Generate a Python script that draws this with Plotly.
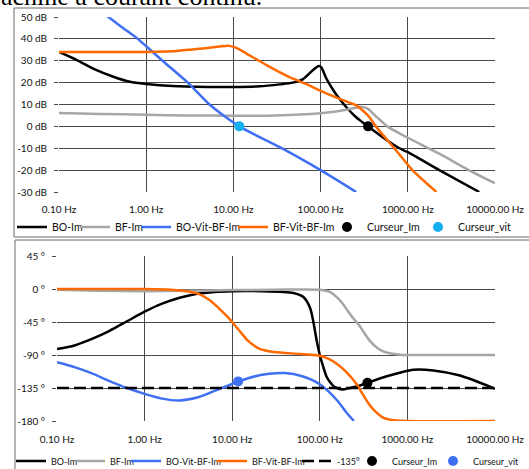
import plotly.graph_objects as go

W, H = 529, 469

# ---------------- data ----------------
FREQ_TICKS = [0.1, 1, 10, 100, 1000, 10000]
FREQ_LABELS = ["0.10 Hz", "1.00 Hz", "10.00 Hz", "100.00 Hz", "1000.00 Hz", "10000.00 Hz"]
GAIN_TICKS = [-30, -20, -10, 0, 10, 20, 30, 40, 50]
GAIN_LABELS = [f"{v} dB" for v in GAIN_TICKS]
PHASE_TICKS = [-180, -135, -90, -45, 0, 45]
PHASE_LABELS = [f"{v} °" for v in PHASE_TICKS]

# Magnitude (dB)
F_BO_IM = [0.1, 0.16, 0.25, 0.42, 0.65, 1.0, 2.0, 5.0, 10, 20, 34, 48, 63, 82, 95, 102, 116, 140, 165, 200, 250, 300, 350, 560, 800, 1000, 2300, 6600]
G_BO_IM = [34.0, 30.3, 26.3, 22.7, 20.4, 19.4, 18.4, 18.0, 18.0, 18.3, 19.2, 20.0, 21.6, 25.8, 27.6, 27.0, 22.0, 16.5, 12.5, 8.5, 4.5, 2.0, 0.0, -6.0, -10.0, -11.8, -20.0, -30.0]

F_BF_IM = [0.1, 0.3, 1, 3, 10, 30, 100, 150, 200, 250, 290, 350, 420, 500, 580, 1000, 2300, 5000, 10000]
G_BF_IM = [6.1, 5.7, 5.3, 5.0, 4.9, 5.0, 6.0, 6.8, 7.6, 8.5, 9.0, 8.0, 5.0, 2.3, 0.0, -5.2, -12.5, -20.0, -26.0]

F_BOV = [0.33, 0.5, 0.8, 1.0, 1.54, 3.0, 5.33, 8.0, 11.7, 18, 34, 100, 256]
G_BOV = [51.5, 46.0, 40.0, 36.6, 30.0, 20.0, 10.0, 4.5, 0.0, -4.0, -9.5, -20.0, -30.0]

F_BFV = [0.1, 1, 2, 3, 5, 7, 9, 11, 14, 24, 44, 68, 100, 160, 256, 300, 364, 430, 700, 1130, 2130]
G_BFV = [34.0, 34.0, 34.3, 35.0, 35.8, 36.5, 36.8, 35.8, 33.4, 28.0, 22.5, 19.4, 16.2, 12.8, 9.6, 7.5, 4.2, 0.0, -10.0, -20.0, -30.0]

# Phase (degrees)
PF_BO_IM = [0.1, 0.158, 0.251, 0.398, 0.631, 1.0, 1.585, 2.512, 3.981, 6.31, 10, 21, 50, 65, 77.5, 84.5, 92, 100, 110, 120, 131, 145, 178, 221, 288, 350, 580, 1170, 1980, 3980, 10000]
P_BO_IM = [-82, -77, -68, -57, -44, -31, -20, -12, -6.5, -4, -3, -3, -5.5, -11, -26, -45, -70, -90, -107, -120, -127, -133, -137, -135, -131.5, -128, -119, -110, -111, -118, -136]

PF_BF_IM = [0.1, 0.3, 1, 3, 10, 30, 100, 130, 156, 180, 212, 245, 280, 330, 375, 450, 530, 650, 820, 1000, 3000, 10000]
P_BF_IM = [-1, -2.5, -3, -2.5, -1.5, -1, -1, -4, -11, -19, -31, -41, -49, -62, -71, -80, -85, -88, -89.5, -90, -90, -90]

PF_BOV = [0.1, 0.158, 0.251, 0.398, 0.631, 1.0, 1.585, 2.512, 3.981, 6.31, 10, 15.85, 25.1, 39.8, 63.1, 100, 158, 200, 245]
P_BOV = [-100, -106.5, -115, -125.5, -135, -143, -149.5, -152, -148, -139, -129.5, -121, -116, -114.5, -119, -130, -152, -168, -180]

PF_BFV = [0.1, 1, 2, 3, 4, 5.5, 7, 8.7, 10, 12.3, 15, 20, 30, 60, 100, 125, 156, 200, 264, 300, 360, 430, 520, 650, 1000, 10000]
P_BFV = [0, 0, -1, -3, -6, -15, -26, -37, -45, -58, -70, -81, -86, -88.5, -91, -95, -102, -113, -130, -141, -156, -167, -175, -178.5, -180, -180]

F_REF = [0.1, 10000]
P_REF = [-135, -135]

CURSOR_IM_F = [350]
CURSOR_IM_G = [0]
CURSOR_IM_P = [-128]
CURSOR_VIT_F = [11.7]
CURSOR_VIT_G = [0]
CURSOR_VIT_P = [-126]

# ---------------- style ----------------
FONT = "Lato"
BLACK = "#000000"
GRAY = "#a6a6a6"
BLUE = "#3f6ff3"
ORANGE = "#ff6a00"
CYAN = "#12b0ee"
GRID = "#4a4a4a"
LW = 2.5

fig = go.Figure()

def line(x, y, name, color, xa, ya, leg, lw_leg, dash=None):
    fig.add_trace(go.Scatter(
        x=x, y=y, name=name, mode="lines", xaxis=xa, yaxis=ya, legend=leg,
        line=dict(color=color, width=LW, shape="spline", smoothing=0.7, dash=dash),
        legendwidth=lw_leg, hoverinfo="skip"))

def marker(x, y, name, color, xa, ya, leg, lw_leg):
    fig.add_trace(go.Scatter(
        x=x, y=y, name=name, mode="markers", xaxis=xa, yaxis=ya, legend=leg,
        marker=dict(color=color, size=10, line=dict(width=0)),
        legendwidth=lw_leg, hoverinfo="skip"))

# top panel
line(F_BO_IM, G_BO_IM, "BO-Im", BLACK, "x", "y", "legend", 18)
line(F_BF_IM, G_BF_IM, "BF-Im", GRAY, "x", "y", "legend", 16)
line(F_BOV, G_BOV, "BO-Vit-BF-Im", BLUE, "x", "y", "legend", 52)
line(F_BFV, G_BFV, "BF-Vit-BF-Im", ORANGE, "x", "y", "legend", 49)
marker(CURSOR_IM_F, CURSOR_IM_G, "Curseur_Im", BLACK, "x", "y", "legend", 46)
marker(CURSOR_VIT_F, CURSOR_VIT_G, "Curseur_vit", CYAN, "x", "y", "legend", 50)

# bottom panel
line(PF_BO_IM, P_BO_IM, "BO-Im", BLACK, "x2", "y2", "legend2", 14)
line(PF_BF_IM, P_BF_IM, "BF-Im", GRAY, "x2", "y2", "legend2", 11)
line(PF_BOV, P_BOV, "BO-Vit-BF-Im", BLUE, "x2", "y2", "legend2", 41)
line(PF_BFV, P_BFV, "BF-Vit-BF-Im", ORANGE, "x2", "y2", "legend2", 40)
line(F_REF, P_REF, "-135°", BLACK, "x2", "y2", "legend2", 10, dash="12px,5px")
marker(CURSOR_IM_F, CURSOR_IM_P, "Curseur_Im", BLACK, "x2", "y2", "legend2", 36)
marker(CURSOR_VIT_F, CURSOR_VIT_P, "Curseur_vit", BLUE, "x2", "y2", "legend2", 40)

tickfont = dict(family=FONT, size=10, color="#111111")

def xaxis(dom, anchor, standoff):
    return dict(type="log", domain=dom, range=[-1, 4], anchor=anchor,
                tickvals=FREQ_TICKS, ticktext=FREQ_LABELS, tickfont=tickfont,
                showgrid=True, gridcolor=GRID, gridwidth=1, zeroline=False,
                showline=False, ticks="", ticklabelstandoff=standoff, automargin=False,
                ticklabeloverflow="allow", fixedrange=True)

def yaxis(dom, anchor, rng, tv, tt):
    return dict(domain=dom, range=rng, anchor=anchor, tickvals=tv, ticktext=tt,
                tickfont=tickfont, showgrid=True, gridcolor=GRID, gridwidth=1,
                zeroline=False, showline=False, ticks="outside", ticklen=4,
                tickcolor=GRID, ticklabelstandoff=5, automargin=False, fixedrange=True)

legfont_top = dict(family=FONT, size=10.5, color="#111111")
legfont_bot = dict(family=FONT, size=9, color="#111111")

fig.update_layout(
    width=W, height=H,
    margin=dict(l=0, r=0, t=0, b=0, autoexpand=False),
    paper_bgcolor="white", plot_bgcolor="white",
    showlegend=True,
    xaxis=xaxis([59 / W, 495 / W], "y", 10),
    yaxis=yaxis([1 - 192 / H, 1 - 17 / H], "x", [-30, 50], GAIN_TICKS, GAIN_LABELS),
    xaxis2=xaxis([57 / W, 495 / W], "y2", 11),
    yaxis2=yaxis([1 - 421 / H, 1 - 256 / H], "x2", [-180, 45], PHASE_TICKS, PHASE_LABELS),
    legend=dict(orientation="h", x=12 / W, xanchor="left", y=1 - 227 / H, yanchor="middle",
                font=legfont_top, bgcolor="rgba(0,0,0,0)", borderwidth=0, itemwidth=30),
    legend2=dict(orientation="h", x=11 / W, xanchor="left", y=1 - 461 / H, yanchor="middle",
                 font=legfont_bot, bgcolor="rgba(0,0,0,0)", borderwidth=0, itemwidth=30),
    shapes=[
        dict(type="rect", xref="paper", yref="paper", x0=14 / W, x1=1.05,
             y0=1 - 237 / H, y1=1 - 8 / H, line=dict(color="#6b6b6b", width=1), layer="below"),
        dict(type="rect", xref="paper", yref="paper", x0=15 / W, x1=1.05,
             y0=-0.05, y1=1 - 240 / H, line=dict(color="#6b6b6b", width=1), layer="below"),
    ],
    annotations=[
        dict(text="achine à courant continu.", xref="paper", yref="paper",
             x=-1 / W, xanchor="left", y=1 - 13 / H, yanchor="bottom", showarrow=False,
             font=dict(family="Liberation Serif", size=26, color="#000000")),
    ],
)

fig.write_html("out.html", config={"displayModeBar": False},
               post_script="document.body.style.margin='0';document.body.style.overflow='hidden';")
